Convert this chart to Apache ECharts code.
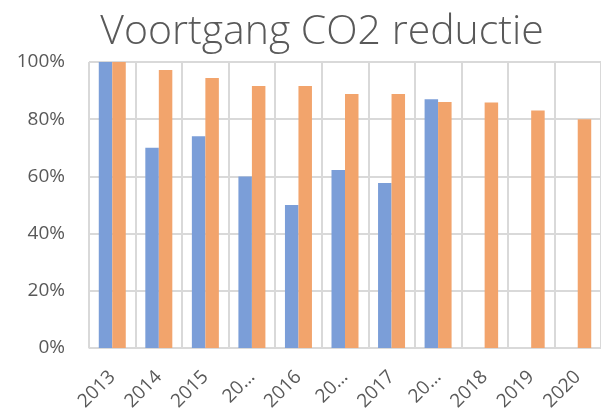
<!DOCTYPE html>
<html>
<head>
<meta charset="utf-8">
<script src="https://cdn.jsdelivr.net/npm/echarts@6/dist/echarts.min.js"></script>
<style>
  html, body { margin: 0; padding: 0; background: #fff; }
  #chart { width: 601px; height: 414px; }
</style>
</head>
<body>
<div id="chart"></div>
<script>
// categorieen zoals op de as getoond (afgekapte labels blijven "20…")
var categories = ['2013', '2014', '2015', '20…', '2016', '20…', '2017', '20…', '2018', '2019', '2020'];
// blauwe reeks: gerealiseerd, oranje reeks: doel
var realised = [1.00, 0.70, 0.74, 0.60, 0.50, 0.622, 0.577, 0.87, null, null, null];
var target = [1.00, 0.972, 0.944, 0.916, 0.916, 0.888, 0.888, 0.86, 0.858, 0.83, 0.80];
var yTicks = [0, 0.2, 0.4, 0.6, 0.8, 1.0];

var chart = echarts.init(document.getElementById('chart'));

var option = {
  animation: false,
  title: {
    text: 'Voortgang CO2 reductie',
    left: 317,
    textAlign: 'center',
    top: 7,
    textStyle: {
      fontFamily: 'Open Sans',
      fontWeight: 300,
      fontSize: 41,
      color: '#595959'
    }
  },
  grid: {
    left: 89,
    right: -6,
    top: 62,
    bottom: 66,
    containLabel: false
  },
  xAxis: {
    type: 'category',
    data: categories,
    axisLine: { lineStyle: { color: '#d9d9d9', width: 1 } },
    axisTick: { show: false },
    splitLine: { show: true, lineStyle: { color: '#d9d9d9', width: 2 } },
    axisLabel: {
      interval: 0,
      rotate: 45,
      margin: 26,
      fontFamily: 'Open Sans',
      fontSize: 19,
      color: '#595959'
    }
  },
  yAxis: {
    type: 'value',
    min: yTicks[0],
    max: yTicks[yTicks.length - 1],
    interval: 0.2,
    axisLine: { show: false },
    axisTick: { show: false },
    splitLine: { lineStyle: { color: '#d9d9d9', width: 2 } },
    axisLabel: {
      margin: 24,
      fontFamily: 'Open Sans',
      fontSize: 19,
      color: '#595959',
      formatter: function (v) { return Math.round(v * 100) + '%'; }
    }
  },
  series: [
    {
      name: 'Gerealiseerd',
      type: 'bar',
      data: realised,
      barGap: '0%',
      barCategoryGap: '42%',
      itemStyle: { color: '#7b9ed8' }
    },
    {
      name: 'Doel',
      type: 'bar',
      data: target,
      itemStyle: { color: '#f2a46c' }
    }
  ]
};

chart.setOption(option);
</script>
</body>
</html>
